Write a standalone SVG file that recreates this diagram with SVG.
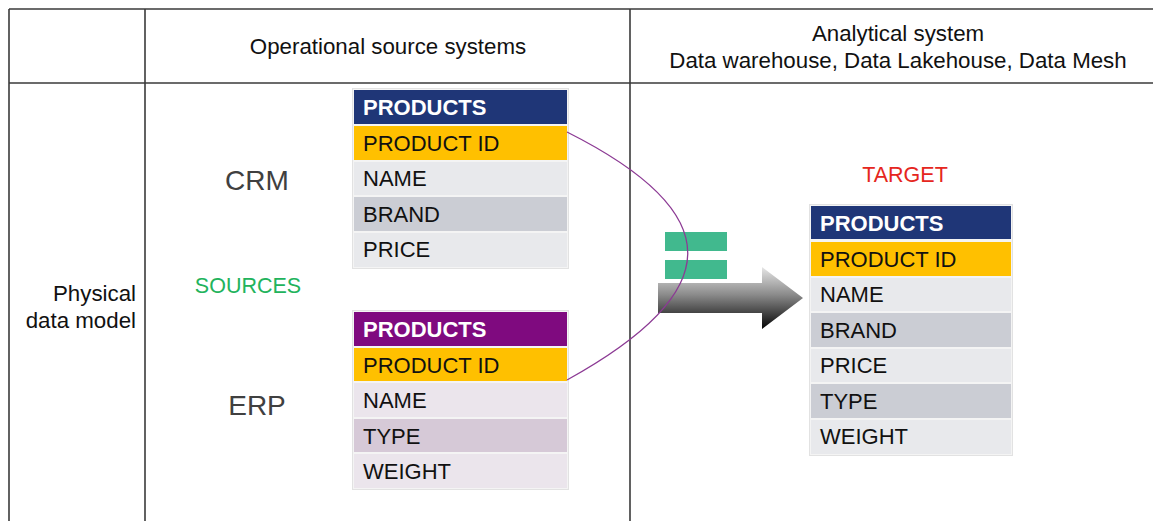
<svg xmlns="http://www.w3.org/2000/svg" width="1153" height="521" viewBox="0 0 1153 521">
  <style>
    text { font-family: "Liberation Sans", Arial, sans-serif; }
    .hdr { font-size: 22.3px; fill: #111; }
    .lbl { font-size: 21.5px; fill: #111; }
    .big { font-size: 28px; fill: #404040; }
    .th { font-size: 22px; font-weight: bold; fill: #fff; }
    .td { font-size: 22px; fill: #111; }
    .grid { stroke: #3a3a3a; stroke-width: 1.6; fill: none; }
    .frame { fill: #f4f4f4; stroke: #e2e2e2; stroke-width: 1; }
    .navy { fill: #1f3677; }
    .purple { fill: #7f0a7f; }
    .key { fill: #ffc000; }
    .g1 { fill: #e8e9ec; }
    .g2 { fill: #cbcdd4; }
    .p1 { fill: #ebe5ec; }
    .p2 { fill: #d6c9d7; }
    .eq { fill: #41b98e; }
  </style>
  <defs>
    <linearGradient id="arrowFill" gradientUnits="userSpaceOnUse" x1="0" y1="267" x2="0" y2="329">
      <stop offset="0" stop-color="#e6e6e6"/>
      <stop offset="0.45" stop-color="#8a8a8a"/>
      <stop offset="1" stop-color="#050505"/>
    </linearGradient>
  </defs>

  <rect width="1153" height="521" fill="#fff"/>

  <!-- table grid -->
  <g id="grid">
    <line class="grid" x1="9" y1="9" x2="1153" y2="9"/>
    <line class="grid" x1="9" y1="83" x2="1153" y2="83"/>
    <line class="grid" x1="9" y1="9" x2="9" y2="521"/>
    <line class="grid" x1="145" y1="9" x2="145" y2="521"/>
    <line class="grid" x1="630" y1="9" x2="630" y2="521"/>
  </g>

  <!-- column and row headings -->
  <g id="headings">
    <text class="hdr" x="388" y="54" text-anchor="middle">Operational source systems</text>
    <text class="hdr" x="898" y="41" text-anchor="middle">Analytical system</text>
    <text class="hdr" x="898" y="68" text-anchor="middle">Data warehouse, Data Lakehouse, Data Mesh</text>
    <text class="hdr" x="136" y="301" text-anchor="end">Physical</text>
    <text class="hdr" x="136" y="328" text-anchor="end">data model</text>
  </g>

  <g id="labels">
    <text class="big" x="257" y="190" text-anchor="middle">CRM</text>
    <text class="big" x="257" y="415" text-anchor="middle">ERP</text>
    <text class="lbl" x="248" y="293" text-anchor="middle" style="fill:#22b35c">SOURCES</text>
    <text class="lbl" x="905" y="182" text-anchor="middle" style="fill:#e52620">TARGET</text>
  </g>

  <!-- CRM products table -->
  <g id="crm-products">
    <rect class="frame" x="352.5" y="88.5" width="216" height="180"/>
    <rect class="navy" x="354" y="90" width="213" height="34"/>
    <rect class="key" x="354" y="126" width="213" height="34"/>
    <rect class="g1" x="354" y="162" width="213" height="33"/>
    <rect class="g2" x="354" y="197" width="213" height="34"/>
    <rect class="g1" x="354" y="233" width="213" height="34"/>
    <text class="th" x="363" y="115">PRODUCTS</text>
    <text class="td" x="363" y="151">PRODUCT ID</text>
    <text class="td" x="363" y="186">NAME</text>
    <text class="td" x="363" y="222">BRAND</text>
    <text class="td" x="363" y="257">PRICE</text>
  </g>

  <!-- ERP products table -->
  <g id="erp-products">
    <rect class="frame" x="352.5" y="310.5" width="216" height="179"/>
    <rect class="purple" x="354" y="312" width="213" height="34"/>
    <rect class="key" x="354" y="348" width="213" height="33"/>
    <rect class="p1" x="354" y="383" width="213" height="34"/>
    <rect class="p2" x="354" y="419" width="213" height="33"/>
    <rect class="p1" x="354" y="454" width="213" height="34"/>
    <text class="th" x="363" y="337">PRODUCTS</text>
    <text class="td" x="363" y="373">PRODUCT ID</text>
    <text class="td" x="363" y="408">NAME</text>
    <text class="td" x="363" y="444">TYPE</text>
    <text class="td" x="363" y="479">WEIGHT</text>
  </g>

  <!-- equality sign -->
  <g id="equals">
    <rect class="eq" x="665" y="232" width="62" height="19"/>
    <rect class="eq" x="665" y="260" width="62" height="19"/>
  </g>

  <!-- transfer arrow -->
  <g id="arrow">
    <polygon points="658,283 762,283 762,267 803,298 762,329 762,313 658,313" fill="url(#arrowFill)"/>
  </g>

  <!-- target products table -->
  <g id="target-products">
    <rect class="frame" x="809.5" y="204.5" width="203" height="251"/>
    <rect class="navy" x="811" y="206" width="200" height="33"/>
    <rect class="key" x="811" y="242" width="200" height="34"/>
    <rect class="g1" x="811" y="278" width="200" height="33"/>
    <rect class="g2" x="811" y="313" width="200" height="34"/>
    <rect class="g1" x="811" y="349" width="200" height="33"/>
    <rect class="g2" x="811" y="384" width="200" height="34"/>
    <rect class="g1" x="811" y="420" width="200" height="34"/>
    <text class="th" x="820" y="231">PRODUCTS</text>
    <text class="td" x="820" y="267">PRODUCT ID</text>
    <text class="td" x="820" y="302">NAME</text>
    <text class="td" x="820" y="338">BRAND</text>
    <text class="td" x="820" y="373">PRICE</text>
    <text class="td" x="820" y="409">TYPE</text>
    <text class="td" x="820" y="444">WEIGHT</text>
  </g>

  <!-- key mapping between the two source tables -->
  <g id="connectors">
    <path d="M567,132 C728,213 728,291 567,380" fill="none" stroke="#8c3a94" stroke-width="1.3"/>
  </g>
</svg>
